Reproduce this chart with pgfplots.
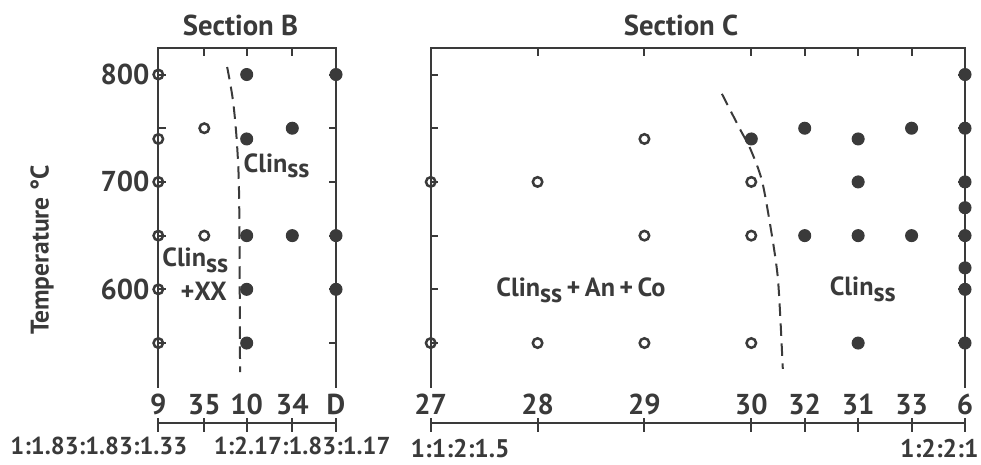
\documentclass[border=0pt]{standalone}
\usepackage{fontspec}
\setmainfont{PT Sans}
\usepackage{pgfplots}
\pgfplotsset{compat=1.18}
\definecolor{ink}{HTML}{3A3A3A}

\newcommand{\clin}{Clin\raisebox{-0.45ex}{ss}}

\pgfplotsset{
  panel/.style={
    scale only axis, height=135.68pt,
    ymin=508.6, ymax=824.4,
    ytick={550,600,...,800},
    axis line style={draw=none},
    major tick length=0pt,
    clip=false,
    ticklabel style={font=\fontsize{11.5}{13}\selectfont\bfseries, text=ink},
    xticklabel style={yshift=0.8pt},
    /pgf/number format/assume math mode=true,
  },
  scalebar/.style={ink, line width=0.8pt, no markers},
  open/.style={only marks, mark=o, mark size=1.9pt,
    mark options={draw=ink, line width=1pt, fill=white}},
  full/.style={only marks, mark=*, mark size=2.4pt,
    mark options={draw=ink, fill=ink}},
  bound/.style={ink, line width=0.8pt, dash pattern=on 5pt off 3pt},
}
\tikzset{
  region/.style={font=\fontsize{10.5}{12}\selectfont\bfseries, text=ink, anchor=west, inner sep=0pt},
  box/.style={ink, line width=0.8pt},
}

\begin{document}
\begin{tikzpicture}
\path[use as bounding box] (0,0) rectangle (392.4pt,-185.6pt);

% Section B
\begin{axis}[panel, at={(63.32pt,-155pt)}, anchor=south west, width=71.08pt,
  xmin=0, xmax=4,
  xtick={0,1.035,1.99,3.016,4}, xticklabels={9,35,10,34,D},
  yticklabels={,600,,700,,800}]
  \addplot[bound, smooth] coordinates {(1.55,807) (1.68,776) (1.77,736) (1.82,683) (1.84,523)};
  \addplot[open] coordinates {(0,800) (0,740) (0,700) (0,650) (0,600) (0,550) (1.035,750) (1.035,650)};
  \addplot[full] coordinates {(1.99,800) (1.99,740) (1.99,650) (1.99,600) (1.99,550)
    (3.016,750) (3.016,650) (4,800) (4,650) (4,600)};
  \node[region] at (axis cs:1.91,715) {\clin};
  \node[region] at (axis cs:0.08,627) {\clin};
  \node[region] at (axis cs:0.49,598) {+XX};
  \addplot[scalebar] coordinates {(0,475.8) (4,475.8)};
  \pgfplotsinvokeforeach{0,1.035,1.99,3.016,4}{
    \addplot[scalebar] coordinates {(#1,480.2) (#1,467.2)};}
\end{axis}

% Section C
\begin{axis}[panel, at={(172.28pt,-155pt)}, anchor=south west, width=213.72pt,
  xmin=0, xmax=10,
  xtick={0,2,4,6,7,8,9,10}, xticklabels={27,28,29,30,32,31,33,6},
  yticklabels={}]
  \addplot[bound, smooth] coordinates {(5.45,782) (5.79,749) (5.98,731) (6.20,701) (6.38,652) (6.49,614) (6.54,577) (6.59,526)};
  \addplot[open] coordinates {(0,700) (0,550) (2,700) (2,550) (4,740) (4,650) (4,550)
    (6,700) (6,650) (6,550)};
  \addplot[full] coordinates {(6,740) (7,750) (7,650) (8,740) (8,700) (8,650) (8,550)
    (9,750) (9,650) (10,800) (10,750) (10,700) (10,676) (10,650) (10,620) (10,600) (10,550)};
  \node[region] at (axis cs:1.22,599) {\clin\,+\,An\,+\,Co};
  \node[region] at (axis cs:7.46,600) {\clin};
  \addplot[scalebar] coordinates {(0,475.8) (10,475.8)};
  \pgfplotsinvokeforeach{0,2,4,6,7,8,9,10}{
    \addplot[scalebar] coordinates {(#1,480.2) (#1,467.2)};}
\end{axis}

% axis frames (open at the bottom) and inward ticks
\draw[box] (63.32pt,-155pt) -- (63.32pt,-19.32pt) -- (134.4pt,-19.32pt) -- (134.4pt,-155pt);
\draw[box] (172.28pt,-155pt) -- (172.28pt,-19.32pt) -- (386pt,-19.32pt) -- (386pt,-155pt);
\foreach \y in {-137.21,-115.73,-94.25,-72.77,-51.29,-29.80} {
  \draw[box] (63.32pt,\y pt) -- ++(3pt,0);
  \draw[box] (134.4pt,\y pt) -- ++(-3pt,0);
  \draw[box] (172.28pt,\y pt) -- ++(3pt,0);
  \draw[box] (386pt,\y pt) -- ++(-3pt,0);
}
\foreach \x in {81.71,98.68,116.91,215.02,257.77,300.51,321.88,343.26,364.63} {
  \draw[box] (\x pt,-19.32pt) -- ++(0,-3pt);
}

\begin{scope}[every node/.style={text=ink}]
  \node[font=\fontsize{11.5}{13}\selectfont\bfseries] at (96.2pt,-10pt) {Section B};
  \node[font=\fontsize{11.5}{13}\selectfont\bfseries] at (272.4pt,-10pt) {Section C};
  \node[rotate=90, font=\fontsize{10.2}{12}\selectfont\bfseries] at (16.8pt,-100pt) {Temperature °C};
  \node[anchor=west, inner sep=0pt, font=\fontsize{9.8}{12}\selectfont\bfseries] at (4pt,-178.4pt) {1:1.83:1.83:1.33};
  \node[anchor=west, inner sep=0pt, font=\fontsize{9.8}{12}\selectfont\bfseries] at (85.3pt,-178.4pt) {1:2.17:1.83:1.17};
  \node[anchor=west, inner sep=0pt, font=\fontsize{10.2}{12}\selectfont\bfseries] at (164pt,-179.6pt) {1:1:2:1.5};
  \node[anchor=east, inner sep=0pt, font=\fontsize{10.2}{12}\selectfont\bfseries] at (391.6pt,-179.6pt) {1:2:2:1};
\end{scope}
\end{tikzpicture}
\end{document}
